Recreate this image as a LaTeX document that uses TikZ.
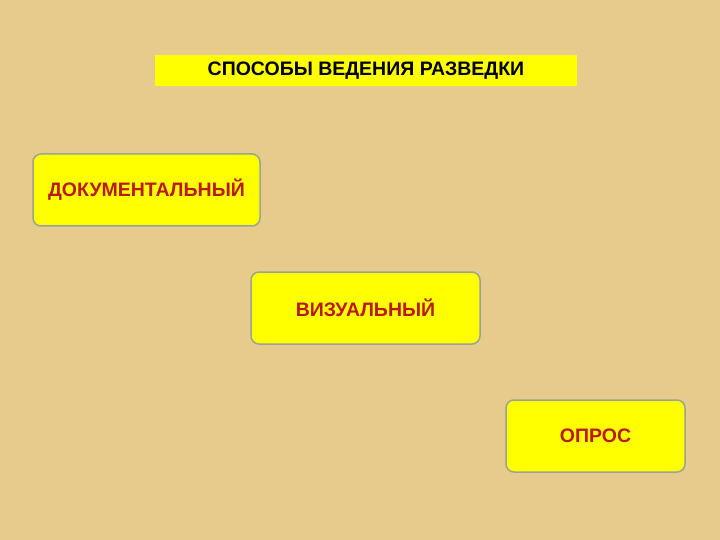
\documentclass[tikz,border=0pt]{standalone}
\usepackage{fontspec}
\setmainfont{Liberation Sans}
\definecolor{parch}{HTML}{E6CB8C}
\definecolor{boxy}{HTML}{FFFF00}
\definecolor{edge}{HTML}{9CA394}
\definecolor{txtred}{HTML}{B81A14}
\tikzset{
 title/.style={fill=boxy,draw=none,minimum width=422pt,minimum height=31pt,font=\bfseries\fontsize{19.5}{21}\selectfont,text=black},
 method/.style={fill=boxy,draw=edge,line width=1.5pt,rounded corners=8pt,font=\bfseries\fontsize{19.5}{21}\selectfont,text=txtred}
}
\begin{document}
\begin{tikzpicture}[x=1pt,y=-1pt]
\fill[parch] (0,0) rectangle (720,540);
\useasboundingbox (0,0) rectangle (720,540);
\node[title] (t) at (366,70.5) {СПОСОБЫ ВЕДЕНИЯ РАЗВЕДКИ};
\node[method,minimum width=227pt,minimum height=72pt] (d) at (146.5,190) {ДОКУМЕНТАЛЬНЫЙ};
\node[method,minimum width=229pt,minimum height=72pt] (v) at (365.5,308) {ВИЗУАЛЬНЫЙ};
\node[method,minimum width=179pt,minimum height=72pt] (o) at (595.5,436) {ОПРОС};
\end{tikzpicture}
\end{document}
